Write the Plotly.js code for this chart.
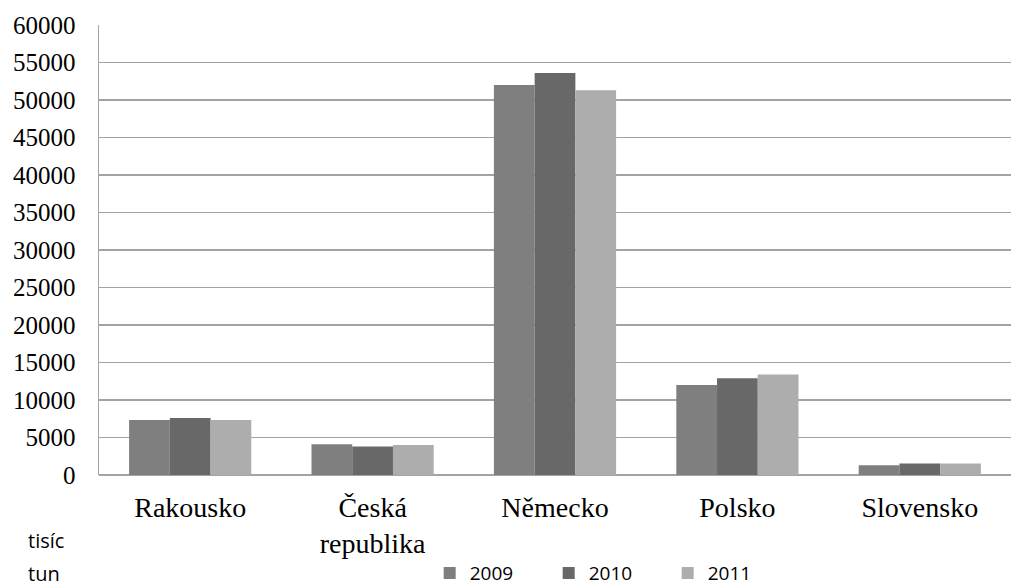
<!DOCTYPE html>
<html>
<head>
<meta charset="utf-8">
<script src="https://cdn.plot.ly/plotly-3.0.1.min.js"></script>
<style>
  html, body { margin: 0; padding: 0; background: #ffffff; }
  #chart { width: 1011px; height: 586px; }
</style>
</head>
<body>
<div id="chart"></div>
<script>
// Countries on the category axis
const countries = ['Rakousko', 'Česká<br>republika', 'Německo', 'Polsko', 'Slovensko'];

// Values in thousand tonnes per year
const values2009 = [7350, 4100, 52000, 12000, 1300];
const values2010 = [7600, 3800, 53600, 12900, 1550];
const values2011 = [7350, 4000, 51300, 13400, 1550];

const years = ['2009', '2010', '2011'];
const series = [values2009, values2010, values2011];
const colors = ['#7f7f7f', '#686868', '#adadad'];

const yTicks = [0, 5000, 10000, 15000, 20000, 25000, 30000, 35000, 40000, 45000, 50000, 55000, 60000];

const traces = series.map((vals, i) => ({
  type: 'bar',
  name: years[i],
  x: countries,
  y: vals,
  marker: { color: colors[i], line: { width: 0 } },
  hoverinfo: 'x+y+name'
}));

const serif = 'Liberation Serif';
const sans = 'Open Sans';

const layout = {
  width: 1011,
  height: 586,
  margin: { l: 99, r: 0, t: 25, b: 111, pad: 0 },
  paper_bgcolor: '#ffffff',
  plot_bgcolor: '#ffffff',
  barmode: 'group',
  bargap: 0.33,
  bargroupgap: 0,
  showlegend: true,
  legend: {
    orientation: 'h',
    xref: 'container',
    yref: 'container',
    x: 0.425,
    xanchor: 'left',
    y: 0.022,
    yanchor: 'middle',
    entrywidth: 74,
    entrywidthmode: 'pixels',
    itemwidth: 30,
    font: { family: sans, size: 19, color: '#000000' },
    bgcolor: 'rgba(0,0,0,0)'
  },
  xaxis: {
    type: 'category',
    showgrid: false,
    zeroline: false,
    showline: false,
    ticks: '',
    ticklabelstandoff: 13,
    tickfont: { family: serif, size: 28, color: '#000000' }
  },
  yaxis: {
    range: [0, 60000],
    tickvals: yTicks,
    ticktext: yTicks.map(String),
    showgrid: true,
    gridcolor: '#a3a3a3',
    gridwidth: 1.5,
    zeroline: true,
    zerolinecolor: '#a3a3a3',
    zerolinewidth: 1.5,
    showline: true,
    linecolor: '#a3a3a3',
    linewidth: 1.5,
    ticks: '',
    ticklabelstandoff: 17,
    tickfont: { family: serif, size: 25, color: '#000000' }
  },
  annotations: [
    {
      text: 'tisíc',
      xref: 'paper', yref: 'paper',
      x: -0.08, y: -0.145,
      xanchor: 'left', yanchor: 'middle',
      showarrow: false,
      font: { family: sans, size: 20, color: '#000000' }
    },
    {
      text: 'tun',
      xref: 'paper', yref: 'paper',
      x: -0.08, y: -0.218,
      xanchor: 'left', yanchor: 'middle',
      showarrow: false,
      font: { family: sans, size: 20, color: '#000000' }
    }
  ]
};

Plotly.newPlot('chart', traces, layout, { displayModeBar: false, staticPlot: true });
</script>
</body>
</html>
